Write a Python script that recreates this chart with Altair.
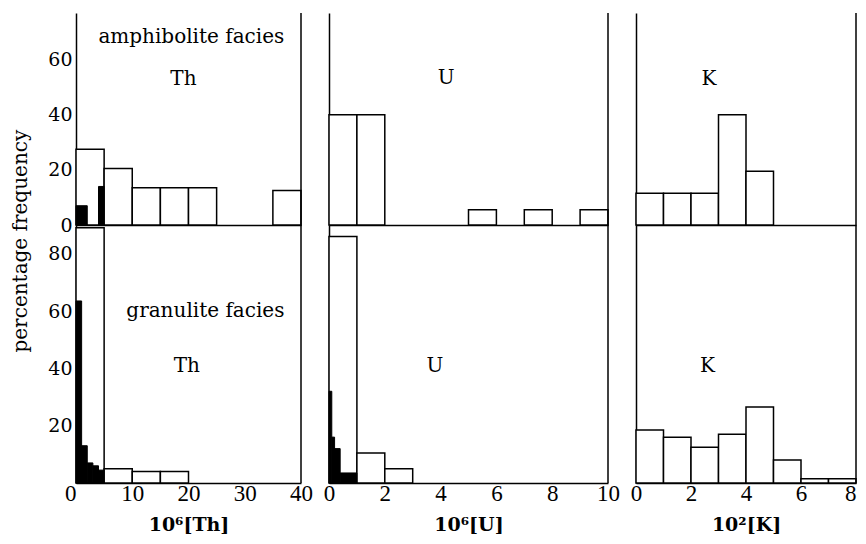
import altair as alt
import pandas as pd

# ---------------- data (percentage frequency per bin) ----------------
# amphibolite facies
th_amph_lo = [0, 5, 10, 15, 20, 35]
th_amph_hi = [5, 10, 15, 20, 25, 40]
th_amph_pct = [27.5, 20.5, 13.5, 13.5, 13.5, 12.5]
th_amph_fine_lo = [0, 4]
th_amph_fine_hi = [2, 5]
th_amph_fine_pct = [7, 14]

u_amph_lo = [0, 1, 5, 7, 9]
u_amph_hi = [1, 2, 6, 8, 10]
u_amph_pct = [40, 40, 5.5, 5.5, 5.5]

k_amph_lo = [0, 1, 2, 3, 4]
k_amph_hi = [1, 2, 3, 4, 5]
k_amph_pct = [11.5, 11.5, 11.5, 40, 19.5]

# granulite facies
th_gran_lo = [0, 5, 10, 15]
th_gran_hi = [5, 10, 15, 20]
th_gran_pct = [89, 5, 4, 4]
th_gran_fine_lo = [0, 1, 2, 3, 4]
th_gran_fine_hi = [1, 2, 3, 4, 5]
th_gran_fine_pct = [63.5, 13, 7, 6, 4.5]

u_gran_lo = [0, 1, 2]
u_gran_hi = [1, 2, 3]
u_gran_pct = [86, 10.5, 5]
u_gran_fine_lo = [0, 0.1, 0.2, 0.4]
u_gran_fine_hi = [0.1, 0.2, 0.4, 1.0]
u_gran_fine_pct = [32, 16, 12, 3.5]

k_gran_lo = [0, 1, 2, 3, 4, 5, 6, 7]
k_gran_hi = [1, 2, 3, 4, 5, 6, 7, 8]
k_gran_pct = [18.5, 16, 12.5, 17, 26.5, 8, 1.5, 1.5]

# axis tick values
th_ticks = [0, 10, 20, 30, 40]
u_ticks = [0, 2, 4, 6, 8, 10]
k_ticks = [0, 2, 4, 6, 8]
top_yticks = [0, 20, 40, 60]
bot_yticks = [20, 40, 60, 80]

SERIF = "DejaVu Serif"
TICKFONT = "Liberation Serif"


def panel(lo, hi, pct, fine, xdom, xticks, xtitle, ydom, yticks,
          width, height, ylabels, bottom, notes, label_align="'center'"):
    coarse = pd.DataFrame({"lo": lo, "hi": hi, "pct": pct})
    xs = alt.Scale(domain=xdom, nice=False, zero=False)
    ys = alt.Scale(domain=ydom, nice=False)
    xaxis = alt.Axis(values=xticks, labels=bottom, ticks=False, grid=False,
                     domain=True, title=xtitle if bottom else None,
                     labelFlush=False, labelAlign={"expr": label_align})
    yaxis = alt.Axis(values=yticks, labels=ylabels, ticks=False, grid=False,
                     domain=True, title=None)
    white = alt.Chart(coarse).mark_rect(
        fill="white", stroke="black", strokeWidth=1.5
    ).encode(
        x=alt.X("lo:Q", scale=xs, axis=xaxis),
        x2="hi:Q",
        y=alt.Y("pct:Q", scale=ys, axis=yaxis),
        y2=alt.datum(0),
    )
    layers = [white]
    if fine is not None:
        fdf = pd.DataFrame({"lo": fine[0], "hi": fine[1], "pct": fine[2]})
        black = alt.Chart(fdf).mark_rect(
            fill="black", stroke="black", strokeWidth=1
        ).encode(
            x=alt.X("lo:Q", scale=xs),
            x2="hi:Q",
            y=alt.Y("pct:Q", scale=ys),
            y2=alt.datum(0),
        )
        layers.append(black)
    ndf = pd.DataFrame(notes, columns=["t", "x", "y"])
    txt = alt.Chart(ndf).mark_text(
        font=SERIF, fontSize=20, color="black", baseline="middle"
    ).encode(
        x=alt.X("x:Q", scale=xs),
        y=alt.Y("y:Q", scale=ys),
        text="t:N",
    )
    layers.append(txt)
    border = alt.Chart(pd.DataFrame({"a": [0]})).mark_rule(
        color="black", strokeWidth=1.5
    ).encode(
        x=alt.datum(xdom[1]),
        y=alt.datum(ydom[1]),
        y2=alt.datum(0),
    )
    layers.append(border)
    return alt.layer(*layers).properties(width=width, height=height)


TH_W, U_W, K_W = 225, 279, 220
TOP_H, BOT_H = 212, 258
TOP_DOM, BOT_DOM = [0, 77], [0, 90]
TH_ALIGN = "datum.value == 0 ? 'right' : 'center'"
K_ALIGN = "datum.value == 8 ? 'right' : 'center'"

th_top = panel(th_amph_lo, th_amph_hi, th_amph_pct,
               (th_amph_fine_lo, th_amph_fine_hi, th_amph_fine_pct),
               [0, 40], th_ticks, "10⁶[Th]", TOP_DOM, top_yticks,
               TH_W, TOP_H, True, False,
               [("amphibolite facies", 20.5, 68.3), ("Th", 19.1, 53.2)])
u_top = panel(u_amph_lo, u_amph_hi, u_amph_pct, None,
              [0, 10], u_ticks, "10⁶[U]", TOP_DOM, top_yticks,
              U_W, TOP_H, False, False, [("U", 4.2, 53.4)])
k_top = panel(k_amph_lo, k_amph_hi, k_amph_pct, None,
              [0, 8], k_ticks, "10²[K]", TOP_DOM, top_yticks,
              K_W, TOP_H, False, False, [("K", 2.65, 53.2)])

th_bot = panel(th_gran_lo, th_gran_hi, th_gran_pct,
               (th_gran_fine_lo, th_gran_fine_hi, th_gran_fine_pct),
               [0, 40], th_ticks, "10⁶[Th]", BOT_DOM, bot_yticks,
               TH_W, BOT_H, True, True,
               [("granulite facies", 23, 60), ("Th", 19.7, 40.8)],
               label_align=TH_ALIGN)
u_bot = panel(u_gran_lo, u_gran_hi, u_gran_pct,
              (u_gran_fine_lo, u_gran_fine_hi, u_gran_fine_pct),
              [0, 10], u_ticks, "10⁶[U]", BOT_DOM, bot_yticks,
              U_W, BOT_H, False, True, [("U", 3.8, 40.8)])
k_bot = panel(k_gran_lo, k_gran_hi, k_gran_pct, None,
              [0, 8], k_ticks, "10²[K]", BOT_DOM, bot_yticks,
              K_W, BOT_H, False, True, [("K", 2.6, 40.8)],
              label_align=K_ALIGN)

chart = alt.concat(
    th_top, u_top, k_top, th_bot, u_bot, k_bot,
    columns=3, spacing={"row": 0, "column": 28}, bounds="flush", align="each",
).properties(
    title=alt.TitleParams(
        "percentage frequency", orient="left", anchor="middle",
        font=SERIF, fontSize=20, fontWeight="normal", color="black",
        offset=17, dx=32,
    ),
    padding={"left": 2, "top": 4, "right": 0, "bottom": 0},
).configure_view(
    stroke=None
).configure_axis(
    domainColor="black", domainWidth=1.5, labelColor="black",
    titleColor="black",
).configure_axisX(
    labelFont=TICKFONT, labelFontSize=23, labelPadding=-1,
    titleFont=SERIF, titleFontSize=19, titleFontWeight="bold",
    titlePadding=10,
).configure_axisY(
    labelFont=SERIF, labelFontSize=19, labelPadding=4,
)

chart.save("out.html", embed_options={"renderer": "svg", "actions": False})
